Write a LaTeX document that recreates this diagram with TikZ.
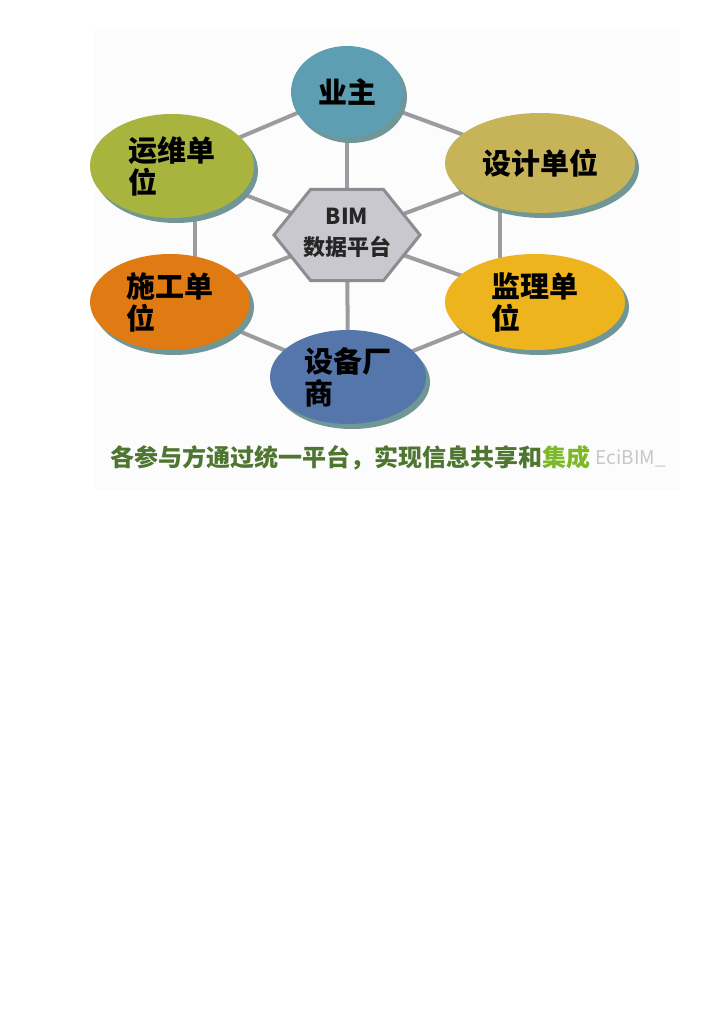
\documentclass[tikz,border=0pt]{standalone}
\usepackage{fontspec}
\newfontfamily\cjk{Noto Sans CJK SC}
\usetikzlibrary{shapes.geometric, shadows, backgrounds}
\definecolor{OwnerTeal}{RGB}{94,158,178}
\definecolor{OpsOlive}{RGB}{168,180,62}
\definecolor{DesignKhaki}{RGB}{200,180,88}
\definecolor{BuildOrange}{RGB}{224,122,18}
\definecolor{SuperGold}{RGB}{238,180,30}
\definecolor{VendorBlue}{RGB}{84,118,170}
\definecolor{ShadowTeal}{RGB}{112,150,150}
\definecolor{HexGray}{RGB}{200,200,206}
\definecolor{HexEdge}{RGB}{140,140,146}
\definecolor{LinkGray}{RGB}{156,156,160}
\definecolor{CapGreen}{RGB}{78,118,48}
\definecolor{CapLight}{RGB}{124,184,40}
\definecolor{PaperGray}{RGB}{252,252,252}

\begin{document}
\begin{tikzpicture}[x=1pt, y=-1pt,
  party/.style={ellipse, inner sep=0pt, align=left, text=black,
    font=\cjk\bfseries\fontsize{29}{32}\selectfont,
    drop shadow={shadow xshift=4pt, shadow yshift=-5pt, fill=ShadowTeal, opacity=1}},
  hexbox/.style={regular polygon, regular polygon sides=6, minimum size=146pt,
    inner sep=0pt, fill=HexGray, draw=HexEdge, line width=3pt, yscale=0.72, transform shape},
  link/.style={draw=LinkGray, line width=4pt}]
  \useasboundingbox (0,0) rectangle (724,1024);

  \node[hexbox] (hub) at (347,235) {};
  \node[align=center, font=\cjk\bfseries\fontsize{22}{31}\selectfont, text=black!85] (hubtext) at ([yshift=2pt]hub) {BIM\\数据平台};

  \node[party, minimum width=112pt, minimum height=92pt, fill=OwnerTeal] (owner) at (347,92) {业主};
  \node[party, minimum width=164pt, minimum height=104pt, fill=OpsOlive] (ops) at (172,166) {运维单\\位};
  \node[party, minimum width=190pt, minimum height=100pt, fill=DesignKhaki] (design) at (540,163) {设计单位};
  \node[party, minimum width=160pt, minimum height=96pt, fill=BuildOrange] (build) at (170,302) {施工单\\位};
  \node[party, minimum width=180pt, minimum height=96pt, fill=SuperGold] (super) at (535,302) {监理单\\位};
  \node[party, minimum width=156pt, minimum height=94pt, fill=VendorBlue] (vendor) at (348,377) {设备厂\\商};

  \node[font=\cjk\bfseries\fontsize{24}{28}\selectfont, text=CapGreen] (slogan) at (350,458)
    {各参与方通过统一平台，实现信息共享和\textcolor{CapLight}{集成}};
  \node[right, inner sep=0pt, font=\cjk\fontsize{19}{22}\selectfont, text=black!22] (mark) at ([xshift=2pt]slogan.east) {EciBIM\_};

  \begin{scope}[on background layer]
    \fill[PaperGray] (95,28) rectangle (680,490);
    \foreach \a/\b in {owner/ops, owner/design, owner/hub, ops/hub, design/hub,
                       build/hub, super/hub, vendor/hub, build/vendor, super/vendor}
      \draw[link] (\a.center) -- (\b.center);
    \draw[link] ([xshift=23pt]ops.center) -- ([xshift=25pt]build.center);
    \draw[link] ([xshift=-40pt]design.center) -- ([xshift=-35pt]super.center);
  \end{scope}
\end{tikzpicture}
\end{document}
